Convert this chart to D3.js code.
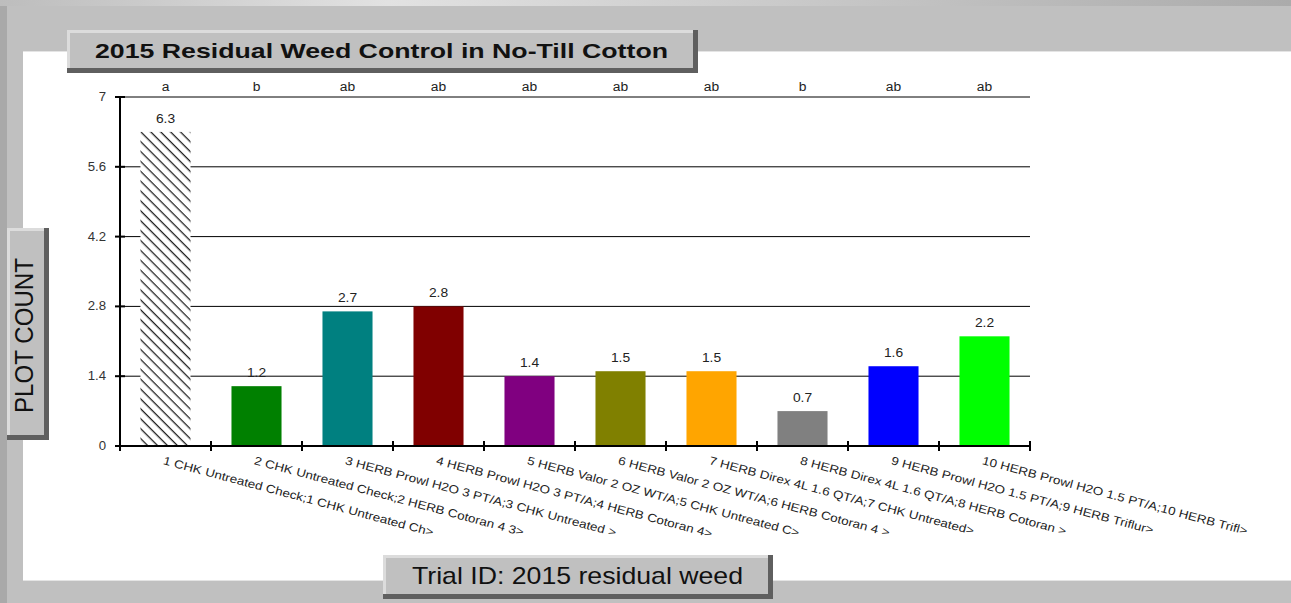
<!DOCTYPE html>
<html>
<head>
<meta charset="utf-8">
<script src="https://cdn.jsdelivr.net/npm/d3@7"></script>
<style>
  html, body { margin: 0; padding: 0; background: #c0c0c0; }
  svg { display: block; font-family: "Liberation Sans", Arial, sans-serif; }
</style>
</head>
<body>
<svg id="chart" width="1291" height="603"></svg>
<script>
// data
const treatments = [
  "1 CHK Untreated Check;1 CHK Untreated Ch>",
  "2 CHK Untreated Check;2 HERB Cotoran 4 3>",
  "3 HERB Prowl H2O 3 PT/A;3 CHK Untreated >",
  "4 HERB Prowl H2O 3 PT/A;4 HERB Cotoran 4>",
  "5 HERB Valor 2 OZ WT/A;5 CHK Untreated C>",
  "6 HERB Valor 2 OZ WT/A;6 HERB Cotoran 4 >",
  "7 HERB Direx 4L 1.6 QT/A;7 CHK Untreated>",
  "8 HERB Direx 4L 1.6 QT/A;8 HERB Cotoran >",
  "9 HERB Prowl H2O 1.5 PT/A;9 HERB Triflur>",
  "10 HERB Prowl H2O 1.5 PT/A;10 HERB Trifl>"
]
const plotCounts = [6.3, 1.2, 2.7, 2.8, 1.4, 1.5, 1.5, 0.7, 1.6, 2.2]
const letters = ["a", "b", "ab", "ab", "ab", "ab", "ab", "b", "ab", "ab"]
const barColors = ["hatch", "#008000", "#008080", "#800000", "#800080", "#808000", "#ffa500", "#808080", "#0000ff", "#00ff00"]
const yTicks = [0, 1.4, 2.8, 4.2, 5.6, 7]

const svg = d3.select('#chart')

// frame
const defs = svg.append('defs')
const grad = defs.append('linearGradient').attr('id', 'topgrad')
grad.append('stop').attr('offset', '0%').attr('stop-color', '#bdbdbd')
grad.append('stop').attr('offset', '30%').attr('stop-color', '#e2e2e2')
grad.append('stop').attr('offset', '100%').attr('stop-color', '#ababab')

svg.append('rect').attr('x', 0).attr('y', 0).attr('width', 1291).attr('height', 603).attr('fill', '#c0c0c0')
svg.append('rect').attr('x', 0).attr('y', 0).attr('width', 1291).attr('height', 6).attr('fill', 'url(#topgrad)')
svg.append('rect').attr('x', 0).attr('y', 6).attr('width', 7).attr('height', 597).attr('fill', '#a9a9a9')
svg.append('rect').attr('x', 23).attr('y', 51).attr('width', 1268).attr('height', 529).attr('fill', '#ffffff')
svg.append('rect').attr('x', 23).attr('y', 580).attr('width', 1268).attr('height', 1).attr('fill', '#e4e4e4')
svg.append('rect').attr('x', 23).attr('y', 51).attr('width', 1268).attr('height', 1).attr('fill', '#e4e4e4')

// hatch pattern for the check bar
const pat = defs.append('pattern')
  .attr('id', 'hatch')
  .attr('patternUnits', 'userSpaceOnUse')
  .attr('width', 7).attr('height', 7)
  .attr('patternTransform', 'rotate(45)')
pat.append('rect').attr('width', 7).attr('height', 7).attr('fill', '#fff')
pat.append('line').attr('x1', 0).attr('y1', 0).attr('x2', 7).attr('y2', 0)
  .attr('stroke', '#222').attr('stroke-width', 2.6)

// bevelled label box
function bevelBox(x, y, w, h) {
  const g = svg.append('g')
  g.append('rect').attr('x', x).attr('y', y).attr('width', w).attr('height', h).attr('fill', '#5f5f5f')
  g.append('rect').attr('x', x).attr('y', y).attr('width', w - 5).attr('height', h - 5).attr('fill', '#dcdcdc')
  g.append('rect').attr('x', x + 3).attr('y', y + 3).attr('width', w - 8).attr('height', h - 8).attr('fill', '#c0c0c0')
  return g
}

// stretch text horizontally like the original render
function stretch(sel, k) {
  sel.each(function() {
    const len = this.getComputedTextLength()
    d3.select(this).attr('textLength', len * k).attr('lengthAdjust', 'spacingAndGlyphs')
  })
}

const margin = {left: 120, right: 1030, top: 97, bottom: 446}

const x = d3.scaleBand()
  .domain(d3.range(treatments.length))
  .range([margin.left, margin.right])
  .paddingInner(0.45)
  .paddingOuter(0.225)

const y = d3.scaleLinear().domain([0, 7]).range([margin.bottom, margin.top])

// gridlines
svg.append('g').selectAll('line')
  .data(yTicks.filter(d => d > 0))
  .join('line')
  .attr('x1', margin.left).attr('x2', margin.right)
  .attr('y1', d => y(d)).attr('y2', d => y(d))
  .attr('stroke', '#000').attr('stroke-width', 1)

// bars
svg.append('g').selectAll('rect')
  .data(plotCounts)
  .join('rect')
  .attr('x', (d, i) => x(i))
  .attr('y', d => y(d))
  .attr('width', x.bandwidth())
  .attr('height', d => y(0) - y(d))
  .attr('fill', (d, i) => barColors[i] == 'hatch' ? 'url(#hatch)' : barColors[i])

// value labels
svg.append('g').selectAll('text')
  .data(plotCounts)
  .join('text')
  .attr('x', (d, i) => x(i) + x.bandwidth() / 2)
  .attr('y', d => y(d) - 9)
  .attr('text-anchor', 'middle')
  .attr('font-size', 12)
  .attr('fill', '#222')
  .text(d => d.toFixed(1))
  .call(stretch, 1.15)

// significance letters
svg.append('g').selectAll('text')
  .data(letters)
  .join('text')
  .attr('x', (d, i) => x(i) + x.bandwidth() / 2)
  .attr('y', 91)
  .attr('text-anchor', 'middle')
  .attr('font-size', 12)
  .attr('fill', '#222')
  .text(d => d)
  .call(stretch, 1.15)

// y axis
const yAxis = svg.append('g')
yAxis.append('line')
  .attr('x1', margin.left).attr('x2', margin.left)
  .attr('y1', margin.top).attr('y2', margin.bottom)
  .attr('stroke', '#000').attr('stroke-width', 2)
yAxis.selectAll('.tick')
  .data(yTicks)
  .join('line')
  .attr('x1', margin.left - 5).attr('x2', margin.left + 5)
  .attr('y1', d => y(d)).attr('y2', d => y(d))
  .attr('stroke', '#000').attr('stroke-width', 2)
yAxis.selectAll('text')
  .data(yTicks)
  .join('text')
  .attr('x', 106)
  .attr('y', d => y(d) + 4)
  .attr('text-anchor', 'end')
  .attr('font-size', 12)
  .attr('fill', '#333')
  .text(d => d)
  .call(stretch, 1.1)

// x axis
const step = (margin.right - margin.left) / treatments.length
const xAxis = svg.append('g')
xAxis.append('line')
  .attr('x1', margin.left - 5).attr('x2', margin.right)
  .attr('y1', margin.bottom).attr('y2', margin.bottom)
  .attr('stroke', '#000').attr('stroke-width', 2)
xAxis.selectAll('.tick')
  .data(d3.range(treatments.length + 1))
  .join('line')
  .attr('x1', d => margin.left + d * step).attr('x2', d => margin.left + d * step)
  .attr('y1', margin.bottom - 5).attr('y2', margin.bottom + 5)
  .attr('stroke', '#000').attr('stroke-width', 2)
xAxis.selectAll('text')
  .data(treatments)
  .join('text')
  .attr('transform', (d, i) => `translate(${x(i) + x.bandwidth() / 2 - 3},${margin.bottom + 18}) rotate(15)`)
  .attr('font-size', 11.5)
  .attr('fill', '#222')
  .text(d => d)
  .call(stretch, 1.17)

// title
bevelBox(67, 30, 631, 43)
svg.append('text')
  .attr('x', 95).attr('y', 58)
  .attr('font-size', 21).attr('font-weight', 'bold')
  .attr('fill', '#111')
  .attr('textLength', 573).attr('lengthAdjust', 'spacingAndGlyphs')
  .text('2015 Residual Weed Control in No-Till Cotton')

// y label
bevelBox(7, 228, 42, 212)
svg.append('text')
  .attr('transform', 'translate(33,413) rotate(-90)')
  .attr('font-size', 25)
  .attr('fill', '#111')
  .attr('textLength', 155).attr('lengthAdjust', 'spacingAndGlyphs')
  .text('PLOT COUNT')

// trial id
bevelBox(383, 555, 390, 44)
svg.append('text')
  .attr('x', 412).attr('y', 584)
  .attr('font-size', 24)
  .attr('fill', '#111')
  .attr('textLength', 331).attr('lengthAdjust', 'spacingAndGlyphs')
  .text('Trial ID: 2015 residual weed')
</script>
</body>
</html>
